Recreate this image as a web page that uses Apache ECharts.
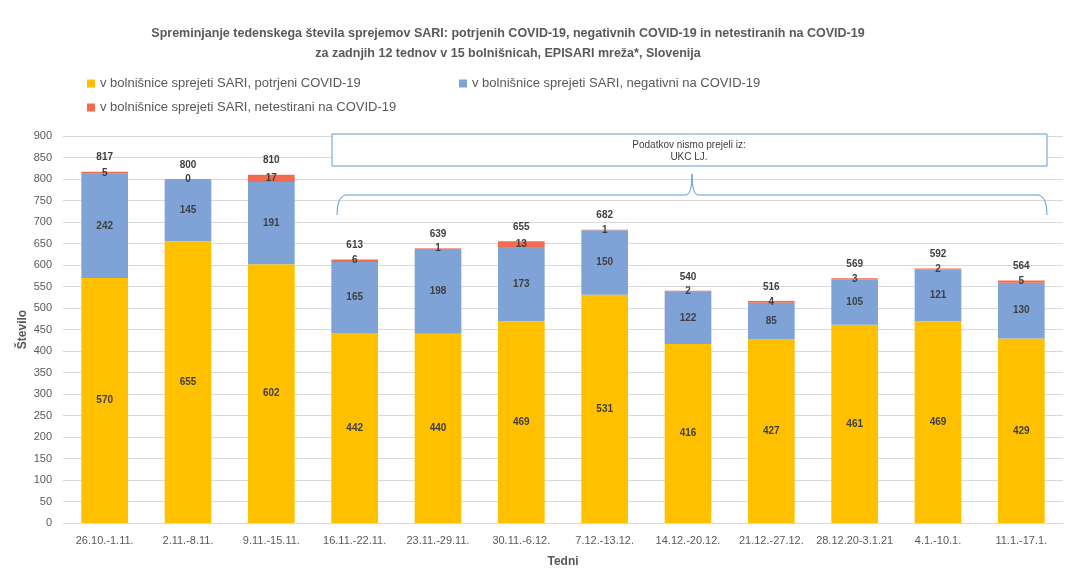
<!DOCTYPE html>
<html><head><meta charset="utf-8">
<script src="https://cdn.jsdelivr.net/npm/echarts@6/dist/echarts.min.js"></script>
<style>html,body{margin:0;padding:0;background:#fff}#c{width:1066px;height:573px}</style>
</head><body><div id="c"></div>
<script>
const categories = ['26.10.-1.11.','2.11.-8.11.','9.11.-15.11.','16.11.-22.11.','23.11.-29.11.','30.11.-6.12.','7.12.-13.12.','14.12.-20.12.','21.12.-27.12.','28.12.20-3.1.21','4.1.-10.1.','11.1.-17.1.'];
const confirmed = [570,655,602,442,440,469,531,416,427,461,469,429];
const negative = [242,145,191,165,198,173,150,122,85,105,121,130];
const untested = [5,0,17,6,1,13,1,2,4,3,2,5];
const totals = [817,800,810,613,639,655,682,540,516,569,592,564];
const seriesNames = ['v bolnišnice sprejeti SARI, potrjeni COVID-19','v bolnišnice sprejeti SARI, negativni na COVID-19','v bolnišnice sprejeti SARI, netestirani na COVID-19'];

const FONT = 'Liberation Sans, sans-serif';
const chart = echarts.init(document.getElementById('c'));
const lbl = {show:true, position:'inside', color:'#404040', fontWeight:'bold', fontSize:10, fontFamily:FONT};
const legendText = {color:'#595959', fontSize:13, fontFamily:FONT};
const BL = '#5B9BD5';
chart.setOption({
  animation:false,
  textStyle:{fontFamily:FONT},
  title:{text:'Spreminjanje tedenskega števila sprejemov SARI: potrjenih COVID-19, negativnih COVID-19 in netestiranih na COVID-19\nza zadnjih 12 tednov v 15 bolnišnicah, EPISARI mreža*, Slovenija',
    left:503, top:19, textAlign:'center',
    textStyle:{fontSize:12.5, fontWeight:'bold', color:'#595959', lineHeight:20, fontFamily:FONT}},
  legend:[
    {data:[seriesNames[0]], left:82, top:72, itemWidth:8, itemHeight:8, icon:'rect', itemGap:4, textStyle:legendText},
    {data:[seriesNames[1]], left:454, top:72, itemWidth:8, itemHeight:8, icon:'rect', itemGap:4, textStyle:legendText},
    {data:[seriesNames[2]], left:82, top:96, itemWidth:8, itemHeight:8, icon:'rect', itemGap:4, textStyle:legendText}
  ],
  grid:{left:63, right:3, top:136, bottom:49},
  xAxis:{type:'category', data:categories, name:'Tedni', nameLocation:'middle', nameGap:33,
    nameTextStyle:{fontWeight:'bold', color:'#595959', fontSize:12, fontFamily:FONT},
    axisLine:{lineStyle:{color:'#d9d9d9'}}, axisTick:{show:false},
    axisLabel:{color:'#595959', fontSize:11, interval:0, margin:12, fontFamily:FONT}},
  yAxis:{type:'value', min:0, max:900, interval:50, name:'Število', nameLocation:'middle', nameGap:34, nameMoveOverlap:false,
    nameTextStyle:{fontWeight:'bold', color:'#595959', fontSize:12, fontFamily:FONT},
    axisLine:{show:false}, axisTick:{show:false},
    axisLabel:{color:'#595959', fontSize:11, margin:11, fontFamily:FONT},
    splitLine:{lineStyle:{color:'#d9d9d9'}}},
  series:[
    {name:seriesNames[0], type:'bar', stack:'t', data:confirmed, barCategoryGap:'44%', itemStyle:{color:'#FFC000'}, label:lbl},
    {name:seriesNames[1], type:'bar', stack:'t', data:negative, itemStyle:{color:'#7FA3D6'}, label:lbl},
    {name:seriesNames[2], type:'bar', stack:'t', data:untested, itemStyle:{color:'#F26B4F'}, label:Object.assign({}, lbl)},
    {name:'total', type:'bar', stack:'t', data:totals.map(()=>0), itemStyle:{color:'rgba(0,0,0,0)'},
      label:{show:true, position:'top', distance:9, color:'#404040', fontWeight:'bold', fontSize:10, fontFamily:FONT,
        formatter:p=>String(totals[p.dataIndex])}}
  ],
  graphic:[
    {type:'rect', shape:{x:332, y:134, width:715, height:32}, style:{fill:'#fff', stroke:BL, lineWidth:1}, z:100},
    {type:'text', x:689, y:139, style:{text:'Podatkov nismo prejeli iz:\nUKC LJ.', fill:'#404040', fontSize:10, fontFamily:FONT, align:'center', lineHeight:12}, z:101},
    {type:'bezierCurve', shape:{x1:337, y1:215, x2:345, y2:195, cpx1:337, cpy1:197}, style:{fill:'none', stroke:BL, lineWidth:1}, z:100},
    {type:'line', shape:{x1:345, y1:195, x2:686, y2:195}, style:{stroke:BL, lineWidth:1}, z:100},
    {type:'bezierCurve', shape:{x1:686, y1:195, x2:692, y2:174, cpx1:692, cpy1:195}, style:{fill:'none', stroke:BL, lineWidth:1}, z:100},
    {type:'bezierCurve', shape:{x1:692, y1:174, x2:698, y2:195, cpx1:692, cpy1:195}, style:{fill:'none', stroke:BL, lineWidth:1}, z:100},
    {type:'line', shape:{x1:698, y1:195, x2:1039, y2:195}, style:{stroke:BL, lineWidth:1}, z:100},
    {type:'bezierCurve', shape:{x1:1039, y1:195, x2:1047, y2:215, cpx1:1047, cpy1:197}, style:{fill:'none', stroke:BL, lineWidth:1}, z:100}
  ]
});
</script></body></html>
